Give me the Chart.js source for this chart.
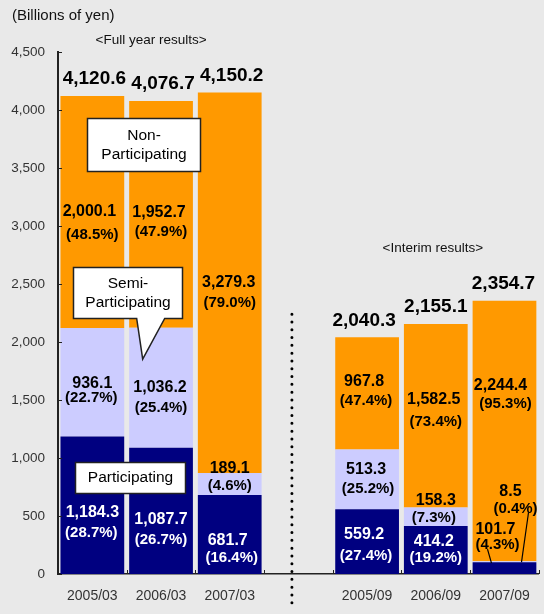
<!DOCTYPE html>
<html>
<head>
<meta charset="utf-8">
<script src="https://cdn.jsdelivr.net/npm/chart.js@4.4.1/dist/chart.umd.min.js"></script>
<style>
  html, body { margin: 0; padding: 0; background: #e9e9e9; }
  #wrap { position: relative; width: 544px; height: 614px; }
</style>
</head>
<body>
<div id="wrap"><canvas id="chart"></canvas></div>
<script>
// ---- data (billions of yen) ----
const categories = ['2005/03', '2006/03', '2007/03', '', '2005/09', '2006/09', '2007/09'];
const participating = [1184.3, 1087.7, 681.7, null, 559.2, 414.2, 101.7];
const semiParticipating = [936.1, 1036.2, 189.1, null, 513.3, 158.3, 8.5];
const nonParticipating = [2000.1, 1952.7, 3279.3, null, 967.8, 1582.5, 2244.4];
const totals = [4120.6, 4076.7, 4150.2, null, 2040.3, 2155.1, 2354.7];
const pctParticipating = ['28.7', '26.7', '16.4', null, '27.4', '19.2', '4.3'];
const pctSemi = ['22.7', '25.4', '4.6', null, '25.2', '7.3', '0.4'];
const pctNon = ['48.5', '47.9', '79.0', null, '47.4', '73.4', '95.3'];

const FONT = '"Liberation Sans", Arial, sans-serif';
const fmt = v => v.toLocaleString('en-US', { minimumFractionDigits: 1, maximumFractionDigits: 1 });

// label nudges from the segment centre: [dxValue, dyValue, dxPct, dyPct]
const nudges = [
  [[0, 7, -1, 28], [0, 9, 0, 29], [-2, 6, 2, 23], null, [-3, -7, -1, 14], [-2, -8, 0, 8], [-9, -39, -7, -23]],
  [[0, 1, -1, 16], [-1, 0, 0, 20], [0, -15, 0, 2], null, [-1, -10, 1, 9], [0, -16, -2, 1], [6, -70, 11, -53]],
  [[-3, 0, 0, 23], [-2, -2, 0, 17], [-1, 0, 0, 20], null, [-3, -12, -1, 7], [-2, -16, 0, 6], [-4, -45, 1, -27]]
];
const totalNudge = [2, 2, 2, null, -3, 0, -1];
// leader lines for the thin 2007/09 segments
const leaders = [{ ds: 0, idx: 6, fromDx: -17, toDx: -13 }, { ds: 1, idx: 6, fromDx: 24, toDx: 17 }];

const pctSets = [pctParticipating, pctSemi, pctNon];
const textColors = ['#ffffff', '#000000', '#000000'];

const decorPlugin = {
  id: 'decor',
  afterDatasetsDraw(chart) {
    const { ctx, chartArea, scales: { x, y } } = chart;
    ctx.save();

    // inward tick marks
    ctx.strokeStyle = '#222';
    ctx.lineWidth = 1;
    y.ticks.forEach(t => {
      const py = Math.round(y.getPixelForValue(t.value)) + 0.5;
      ctx.beginPath(); ctx.moveTo(chartArea.left, py); ctx.lineTo(chartArea.left + 4, py); ctx.stroke();
    });
    const cw = x.width / categories.length;
    for (let i = 1; i <= categories.length; i++) {
      const px = Math.round(chartArea.left + i * cw) + 0.5;
      ctx.beginPath(); ctx.moveTo(px, chartArea.bottom); ctx.lineTo(px, chartArea.bottom - 4); ctx.stroke();
    }

    // segment labels
    ctx.textAlign = 'center';
    ctx.textBaseline = 'middle';
    [participating, semiParticipating, nonParticipating].forEach((vals, d) => {
      const meta = chart.getDatasetMeta(d);
      vals.forEach((v, i) => {
        if (v == null) return;
        const el = meta.data[i];
        const mid = (el.y + el.base) / 2;
        const n = nudges[d][i];
        // labels lifted out of a thin segment sit on orange -> black
        const outside = Math.abs(el.base - el.y) < 30;
        ctx.fillStyle = outside ? '#000' : textColors[d];
        ctx.font = 'bold 16px ' + FONT;
        ctx.fillText(fmt(v), el.x + n[0], mid + n[1]);
        ctx.font = 'bold 15px ' + FONT;
        ctx.fillText('(' + pctSets[d][i] + '%)', el.x + n[2], mid + n[3]);
      });
    });

    // leader lines
    ctx.strokeStyle = '#000';
    ctx.lineWidth = 1.2;
    leaders.forEach(l => {
      const el = chart.getDatasetMeta(l.ds).data[l.idx];
      const mid = (el.y + el.base) / 2;
      const n = nudges[l.ds][l.idx];
      ctx.beginPath();
      ctx.moveTo(el.x + l.fromDx, mid + n[3] + 4);
      ctx.lineTo(el.x + l.toDx, el.y + 1);
      ctx.stroke();
    });

    // totals
    ctx.fillStyle = '#000';
    ctx.font = 'bold 19px ' + FONT;
    const topMeta = chart.getDatasetMeta(2);
    totals.forEach((t, i) => {
      if (t == null) return;
      const el = topMeta.data[i];
      ctx.fillText(fmt(t), el.x + totalNudge[i], el.y - 17);
    });

    // callouts
    const mid01 = (x.getPixelForValue(0) + x.getPixelForValue(1)) / 2;
    const box = (cx, w, vTop, vBot, lines, pointer) => {
      const l = Math.round(cx - w / 2) + 0.5, r = Math.round(cx + w / 2) + 0.5;
      const t = Math.round(y.getPixelForValue(vTop)) + 0.5, b = Math.round(y.getPixelForValue(vBot)) + 0.5;
      ctx.beginPath();
      ctx.moveTo(l, t); ctx.lineTo(r, t); ctx.lineTo(r, b);
      if (pointer) {
        ctx.lineTo(pointer.b2, b);
        ctx.lineTo(pointer.tx, y.getPixelForValue(pointer.tv));
        ctx.lineTo(pointer.b1, b);
      }
      ctx.lineTo(l, b); ctx.closePath();
      ctx.fillStyle = '#fff';
      ctx.fill();
      ctx.strokeStyle = '#222';
      ctx.lineWidth = 1.5;
      ctx.stroke();
      ctx.fillStyle = '#000';
      ctx.font = '15.5px ' + FONT;
      const cy = (t + b) / 2, lh = 18.5;
      lines.forEach((s, k) => ctx.fillText(s, (l + r) / 2, cy + (k - (lines.length - 1) / 2) * lh));
    };
    box(mid01 + 17, 113, 3930, 3475, ['Non-', 'Participating']);
    box(mid01 + 0.5, 109, 2647, 2207, ['Semi-', 'Participating'],
      { b1: mid01 + 10, b2: mid01 + 38, tx: mid01 + 16, tv: 1853 });
    box(mid01 + 3, 110, 966, 698, ['Participating']);

    // dotted separator
    ctx.strokeStyle = '#000';
    ctx.lineWidth = 3;
    ctx.lineCap = 'round';
    ctx.setLineDash([0, 7.8]);
    const sx = x.getPixelForValue(3) - 6.5;
    ctx.beginPath();
    ctx.moveTo(sx, y.getPixelForValue(2240));
    ctx.lineTo(sx, chartArea.bottom + 31);
    ctx.stroke();
    ctx.setLineDash([]);

    // headings
    ctx.fillStyle = '#111';
    ctx.font = '15px ' + FONT;
    ctx.textAlign = 'left';
    ctx.fillText('(Billions of yen)', 12, 16);
    ctx.textAlign = 'center';
    ctx.font = '13.5px ' + FONT;
    ctx.fillText('<Full year results>', x.getPixelForValue(1) - 10, 40);
    ctx.fillText('<Interim results>', x.getPixelForValue(5) - 3, y.getPixelForValue(2240) - 66);

    ctx.restore();
  }
};

new Chart(document.getElementById('chart'), {
  type: 'bar',
  data: {
    labels: categories,
    datasets: [
      { label: 'Participating', data: participating, backgroundColor: '#000080' },
      { label: 'Semi-Participating', data: semiParticipating, backgroundColor: '#ccccff' },
      { label: 'Non-Participating', data: nonParticipating, backgroundColor: '#ff9900' }
    ]
  },
  options: {
    responsive: true,
    maintainAspectRatio: false,
    animation: false,
    barPercentage: 0.928,
    categoryPercentage: 1,
    layout: { padding: { top: 52, right: 3, left: 0, bottom: 0 } },
    plugins: { legend: { display: false }, tooltip: { enabled: false } },
    scales: {
      x: {
        stacked: true,
        afterFit(scale) { scale.height = 40; },
        grid: { display: false, drawTicks: false },
        border: { display: true, color: '#222', width: 1.5 },
        ticks: { padding: 14, color: '#333', font: { family: FONT, size: 14 }, maxRotation: 0 }
      },
      y: {
        stacked: true,
        min: 0,
        max: 4500,
        afterFit(scale) { scale.width = 58; },
        grid: { display: false, drawTicks: false },
        border: { display: true, color: '#222', width: 2 },
        ticks: {
          stepSize: 500,
          padding: 13,
          color: '#333',
          font: { family: FONT, size: 13.5 },
          callback: v => v.toLocaleString('en-US')
        }
      }
    }
  },
  plugins: [decorPlugin]
});
</script>
</body>
</html>
